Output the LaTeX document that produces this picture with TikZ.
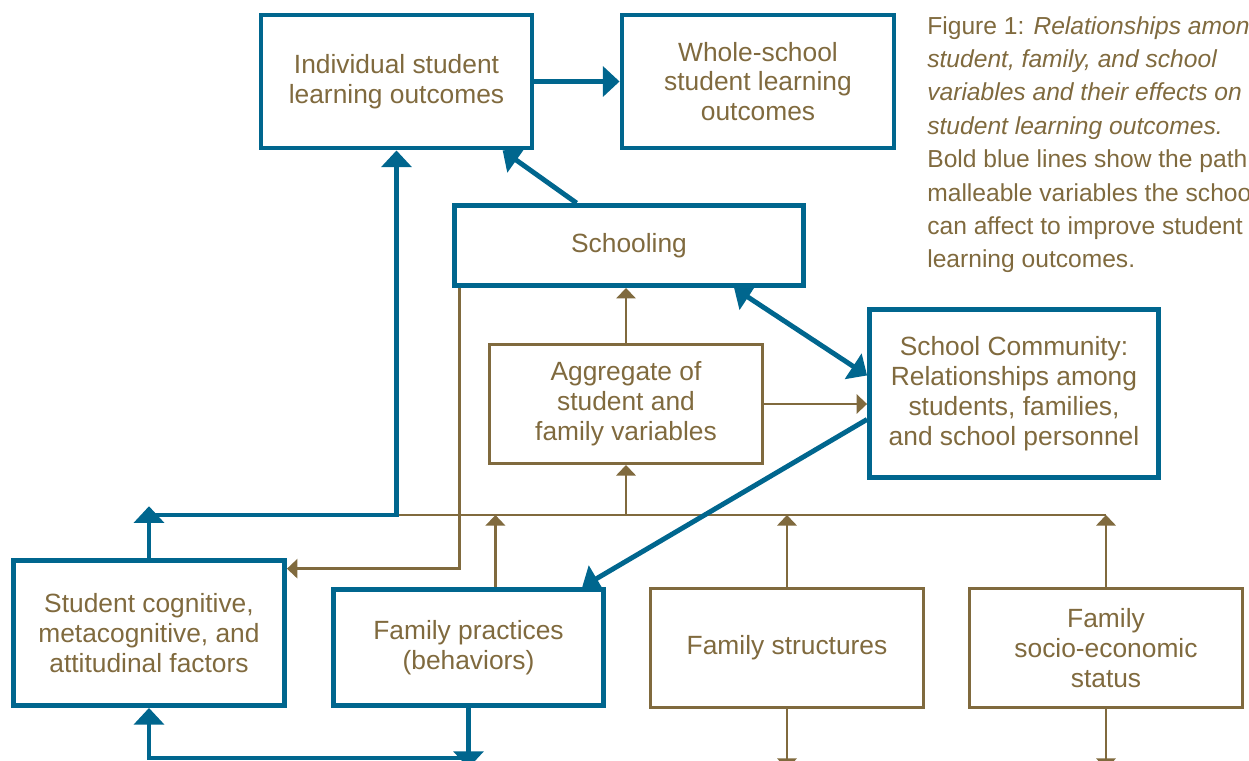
\documentclass[tikz,border=0pt]{standalone}
\usepackage{fontspec}
\setmainfont{Liberation Sans}
\usetikzlibrary{arrows.meta,positioning}
\definecolor{sblue}{RGB}{0,102,142}
\definecolor{sbrown}{RGB}{128,106,62}
\tikzset{bluetip/.tip={Triangle[length=9.5pt,width=17pt]},
browntip/.tip={Triangle[length=6pt,width=11pt]}}

\begin{document}
\begin{tikzpicture}[x=0.02cm,y=-0.02cm,
every node/.style={align=center,text=sbrown,font=\fontsize{15}{17}\selectfont},
bluebox/.style={draw=sblue,line width=2.8pt,fill=white},
brownbox/.style={draw=sbrown,line width=1.7pt,fill=white},
bluearr/.style={draw=sblue,line width=2.8pt,-bluetip},
brownarr/.style={draw=sbrown,line width=1.4pt,-browntip}]
\clip (0,0) rectangle (1249,761);
\node[bluebox,minimum width=5.42cm,minimum height=2.66cm] (B1) at (396.5,81.5) {Individual student\\learning outcomes};
\node[bluebox,minimum width=5.44cm,minimum height=2.66cm] (B2) at (758,81.5) {Whole-school\\student learning\\outcomes};
\node[bluebox,minimum width=6.98cm,minimum height=1.6cm] (B3) at (629,245.5) {Schooling};
\node[brownbox,minimum width=5.46cm,minimum height=2.38cm] (B4) at (626,404) {Aggregate of\\student and\\family variables};
\node[bluebox,minimum width=5.78cm,minimum height=3.36cm] (B5) at (1014,393.5) {School Community:\\Relationships among\\students, families,\\and school personnel};
\node[bluebox,minimum width=5.42cm,minimum height=2.9cm] (B6) at (149,633) {Student cognitive,\\metacognitive, and\\attitudinal factors};
\node[bluebox,minimum width=5.4cm,minimum height=2.32cm] (B7) at (468.5,647.5) {Family practices\\(behaviors)};
\node[brownbox,minimum width=5.46cm,minimum height=2.38cm] (B8) at (787,648) {Family structures};
\node[brownbox,minimum width=5.46cm,minimum height=2.38cm] (B9) at (1106,648) {Family\\socio-economic\\status};
\node[anchor=north west,inner sep=0pt,align=left,font=\fontsize{14}{19}\selectfont] (cap) at (927,16)
{Figure 1: \textit{Relationships among}\\
\textit{student, family, and school}\\
\textit{variables and their effects on}\\
\textit{student learning outcomes.}\\
Bold blue lines show the path\\
malleable variables the school\\
can affect to improve student\\
learning outcomes.};
\coordinate (K) at (149,515);
\coordinate (R) at (1106,515);
\coordinate (D) at (468.5,758);
\draw[sbrown,line width=1.4pt] (B1.south |- K) -- (R);
\draw[brownarr] (B4.north) -- (B4.north |- B3.south);
\draw[brownarr] (B4.east) -- (B4.east -| B5.west);
\draw[brownarr] (B4.south |- K) -- (B4.south);
\draw[brownarr] (B7.66) -- (B7.66 |- K);
\draw[brownarr] (B8.north) -- (B8.north |- K);
\draw[brownarr] (B9.north) -- (R);
\draw[brownarr] ([xshift=0.15cm]B3.south west) |- (B6.25);
\draw[brownarr] (B8.south) -- ++(0,60);
\draw[brownarr] (B9.south) -- ++(0,60);
\draw[bluearr] (B1) -- (B2);
\draw[bluearr] (B3.141) -- (B1.-33);
\draw[bluearr,bluetip-bluetip] (B3.-22) -- (B5.173);
\draw[bluearr] (B5.190) -- (B7.28);
\draw[bluearr,shorten >=-5pt] (B6.north) -- (K);
\draw[bluearr] (K) -| (B1.south);
\draw[bluearr] (B7.south) -- ++(0,60);
\draw[bluearr] (D) -| (B6.south);
\end{tikzpicture}
\end{document}
